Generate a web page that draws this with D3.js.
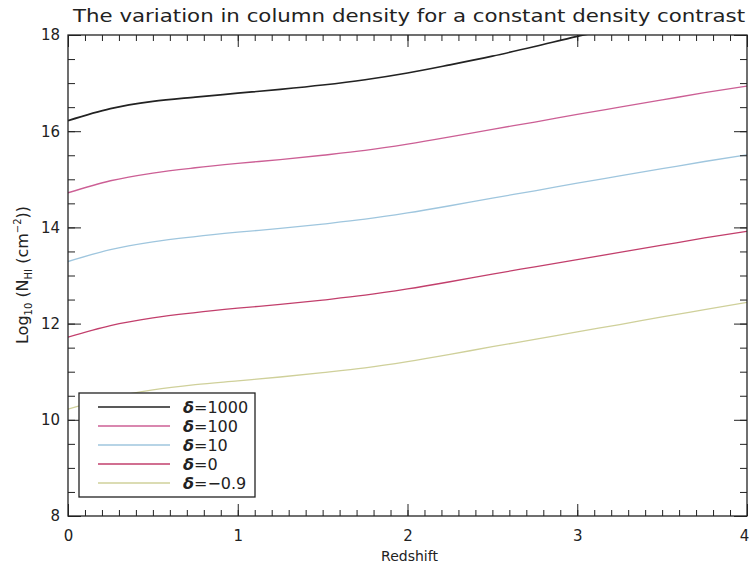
<!DOCTYPE html>
<html>
<head>
<meta charset="utf-8">
<script src="https://cdn.jsdelivr.net/npm/d3@7"></script>
<style>
  body { margin: 0; background: #fff; }
  text { font-family: "DejaVu Sans", "Liberation Sans", sans-serif; fill: #222; }
</style>
</head>
<body>
<svg id="chart" width="749" height="565"></svg>
<script>
const redshift = [0, 0.25, 0.5, 0.75, 1, 1.25, 1.5, 1.75, 2, 2.25, 2.5, 2.75, 3, 3.25, 3.5, 3.75, 4];
const delta1000 = [16.22, 16.47, 16.62, 16.71, 16.79, 16.87, 16.96, 17.07, 17.21, 17.38, 17.56, 17.76, 17.97, 18.15, 18.30, 18.45, 18.60];
const delta100  = [14.72, 14.97, 15.13, 15.24, 15.33, 15.41, 15.50, 15.60, 15.73, 15.88, 16.04, 16.19, 16.35, 16.50, 16.65, 16.80, 16.94];
const delta10   = [13.29, 13.54, 13.70, 13.81, 13.90, 13.98, 14.07, 14.17, 14.30, 14.45, 14.61, 14.76, 14.92, 15.07, 15.22, 15.37, 15.51];
const delta0    = [11.72, 11.96, 12.12, 12.23, 12.32, 12.40, 12.49, 12.59, 12.72, 12.87, 13.03, 13.18, 13.33, 13.48, 13.63, 13.78, 13.92];
const deltaM09  = [10.22, 10.46, 10.62, 10.73, 10.81, 10.89, 10.98, 11.08, 11.21, 11.36, 11.52, 11.67, 11.83, 11.98, 12.14, 12.29, 12.44];
const seriesNames = ["δ=1000", "δ=100", "δ=10", "δ=0", "δ=−0.9"];
const seriesColors = ["#222222", "#cc5f95", "#9fc6de", "#c23f6c", "#cfd09a"];
const xTicks = [0, 1, 2, 3, 4];
const yTicks = [8, 10, 12, 14, 16, 18];
const title = "The variation in column density for a constant density contrast";

const allSeries = [delta1000, delta100, delta10, delta0, deltaM09];

const svg = d3.select("#chart");
const L = 68, R = 747, T = 35, B = 516;

const x = d3.scaleLinear().domain([0, 4]).range([L, R]);
const y = d3.scaleLinear().domain([8, 18]).range([B, T]);

svg.append("defs").append("clipPath").attr("id", "clip")
  .append("rect").attr("x", L).attr("y", T).attr("width", R - L).attr("height", B - T);

const line = d3.line().x((d, i) => x(redshift[i])).y(d => y(d)).curve(d3.curveMonotoneX);
svg.append("g").attr("clip-path", "url(#clip)")
  .selectAll("path").data(allSeries).join("path")
  .attr("d", d => line(d))
  .attr("fill", "none")
  .attr("stroke", (d, i) => seriesColors[i])
  .attr("stroke-width", (d, i) => i === 0 ? 1.7 : 1.3);

const minorX = d3.range(0, 4.0001, 0.1).map(v => +v.toFixed(2));
const minorY = d3.range(8, 18.0001, 0.5).map(v => +v.toFixed(2));

function styleAxis(g) {
  g.select(".domain").remove();
  g.selectAll(".tick line").attr("stroke", "#222").attr("stroke-width", 1);
  g.selectAll(".tick text").attr("font-size", 15).attr("fill", "#222")
    .style("font-family", '"DejaVu Sans", sans-serif');
}

// bottom
svg.append("g").attr("transform", `translate(0,${B})`)
  .call(d3.axisBottom(x).tickValues(minorX).tickSize(-6).tickFormat(""))
  .call(styleAxis);
const bx = svg.append("g").attr("transform", `translate(0,${B})`)
  .call(d3.axisBottom(x).tickValues(xTicks).tickSize(-12).tickPadding(14).tickFormat(d3.format("d")))
  .call(styleAxis);
bx.selectAll(".tick text").filter(d => d === 4).attr("dx", -3);
// top
svg.append("g").attr("transform", `translate(0,${T})`)
  .call(d3.axisTop(x).tickValues(minorX).tickSize(-6).tickFormat(""))
  .call(styleAxis);
svg.append("g").attr("transform", `translate(0,${T})`)
  .call(d3.axisTop(x).tickValues(xTicks).tickSize(-12).tickFormat(""))
  .call(styleAxis);
// left
svg.append("g").attr("transform", `translate(${L},0)`)
  .call(d3.axisLeft(y).tickValues(minorY).tickSize(-7).tickFormat(""))
  .call(styleAxis);
svg.append("g").attr("transform", `translate(${L},0)`)
  .call(d3.axisLeft(y).tickValues(yTicks).tickSize(-13).tickPadding(8).tickFormat(d3.format("d")))
  .call(styleAxis);
// right
svg.append("g").attr("transform", `translate(${R},0)`)
  .call(d3.axisRight(y).tickValues(minorY).tickSize(-7).tickFormat(""))
  .call(styleAxis);
svg.append("g").attr("transform", `translate(${R},0)`)
  .call(d3.axisRight(y).tickValues(yTicks).tickSize(-13).tickFormat(""))
  .call(styleAxis);

// frame
svg.append("rect").attr("x", L).attr("y", T).attr("width", R - L).attr("height", B - T)
  .attr("fill", "none").attr("stroke", "#222").attr("stroke-width", 1.3);

// title
svg.append("text").attr("x", L + 5).attr("y", 22)
  .attr("font-size", 18).attr("textLength", 672).attr("lengthAdjust", "spacingAndGlyphs")
  .text(title);

// x label
svg.append("text").attr("x", (L + R) / 2 + 2).attr("y", 561).attr("text-anchor", "middle")
  .attr("font-size", 14).text("Redshift");

// y label
const yl = svg.append("text").attr("transform", "translate(28,275) rotate(-90)")
  .attr("text-anchor", "middle").attr("font-size", 16);
yl.append("tspan").text("Log");
yl.append("tspan").attr("font-size", 10).attr("dy", 4).text("10");
yl.append("tspan").attr("dy", -4).text(" (N");
yl.append("tspan").attr("font-size", 10).attr("dy", 4).text("HI");
yl.append("tspan").attr("dy", -4).text(" (cm");
yl.append("tspan").attr("font-size", 10).attr("dy", -7).text("−2");
yl.append("tspan").attr("dy", 7).text("))");

// legend
const lg = svg.append("g");
lg.append("rect").attr("x", 79).attr("y", 393).attr("width", 176).attr("height", 104)
  .attr("fill", "#fff").attr("stroke", "#222").attr("stroke-width", 1.3);
const items = lg.selectAll("g.item").data(seriesNames).join("g").attr("class", "item")
  .attr("transform", (d, i) => `translate(0,${407 + i * 19})`);
items.append("line").attr("x1", 98).attr("x2", 170).attr("y1", 0).attr("y2", 0)
  .attr("stroke", (d, i) => seriesColors[i]).attr("stroke-width", (d, i) => i === 0 ? 1.7 : 1.3);
items.append("text").attr("x", 183).attr("y", 6).attr("font-size", 16)
  .each(function(d) {
    const t = d3.select(this);
    t.append("tspan").attr("font-style", "italic").attr("font-weight", "bold").text(d.slice(0, 1));
    t.append("tspan").text(d.slice(1));
  });
</script>
</body>
</html>
